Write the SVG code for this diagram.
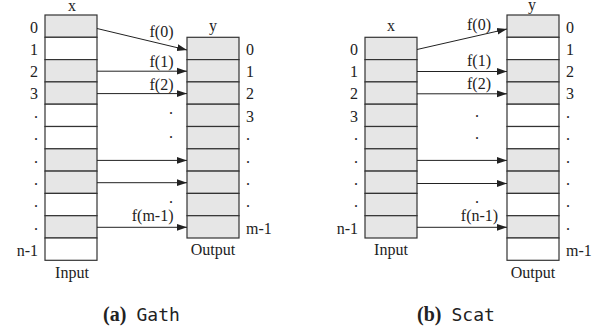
<svg xmlns="http://www.w3.org/2000/svg" width="605" height="334" viewBox="0 0 605 334">
<style>
text{font-family:"Liberation Serif","Times New Roman",serif;font-size:16px;fill:#222}
.g{fill:#e6e6e6;stroke:#333;stroke-width:1.2}
.w{fill:#ffffff;stroke:#333;stroke-width:1.2}
.e{text-anchor:end}
.m{text-anchor:middle}
.ln{stroke:#222;stroke-width:1;fill:none;marker-end:url(#ah)}
.cap{font-family:"Liberation Serif",serif;font-weight:bold;font-size:20px}
.mono{font-family:"DejaVu Sans Mono",monospace;font-size:18px}
</style>
<defs>
<marker id="ah" markerUnits="userSpaceOnUse" markerWidth="10" markerHeight="8" refX="10" refY="4" orient="auto">
<path d="M0,0.6 L10,4 L0,7.4 z" fill="#222"/>
</marker>
</defs>

<!-- (a) Gath -->
<g id="gath-x">
<text class="m" x="72" y="11">x</text>
<rect class="g" x="45" y="15" width="52" height="22.3"/>
<rect class="w" x="45" y="37.3" width="52" height="22.3"/>
<rect class="g" x="45" y="59.6" width="52" height="22.3"/>
<rect class="g" x="45" y="81.9" width="52" height="22.3"/>
<rect class="w" x="45" y="104.2" width="52" height="22.3"/>
<rect class="w" x="45" y="126.5" width="52" height="22.3"/>
<rect class="g" x="45" y="148.8" width="52" height="22.3"/>
<rect class="g" x="45" y="171.1" width="52" height="22.3"/>
<rect class="w" x="45" y="193.4" width="52" height="22.3"/>
<rect class="g" x="45" y="215.7" width="52" height="22.3"/>
<rect class="w" x="45" y="238" width="52" height="22.3"/>
<text class="e" x="38" y="32.5">0</text>
<text class="e" x="38" y="54.8">1</text>
<text class="e" x="38" y="77.1">2</text>
<text class="e" x="38" y="99.4">3</text>
<text class="e" x="38" y="118">.</text>
<text class="e" x="38" y="140.3">.</text>
<text class="e" x="38" y="162.6">.</text>
<text class="e" x="38" y="184.9">.</text>
<text class="e" x="38" y="207.2">.</text>
<text class="e" x="38" y="229.5">.</text>
<text class="e" x="38" y="256">n-1</text>
<text class="m" x="72" y="278">Input</text>
</g>

<g id="gath-y">
<text class="m" x="213" y="31">y</text>
<rect class="g" x="187" y="37.3" width="52" height="22.3"/>
<rect class="g" x="187" y="59.6" width="52" height="22.3"/>
<rect class="g" x="187" y="81.9" width="52" height="22.3"/>
<rect class="g" x="187" y="104.2" width="52" height="22.3"/>
<rect class="g" x="187" y="126.5" width="52" height="22.3"/>
<rect class="g" x="187" y="148.8" width="52" height="22.3"/>
<rect class="g" x="187" y="171.1" width="52" height="22.3"/>
<rect class="g" x="187" y="193.4" width="52" height="22.3"/>
<rect class="g" x="187" y="215.7" width="52" height="22.3"/>
<text x="246" y="54.8">0</text>
<text x="246" y="77.1">1</text>
<text x="246" y="99.4">2</text>
<text x="246" y="121.7">3</text>
<text x="246" y="140.3">.</text>
<text x="246" y="162.6">.</text>
<text x="246" y="184.9">.</text>
<text x="246" y="207.2">.</text>
<text x="246" y="233.5">m-1</text>
<text class="m" x="213" y="255">Output</text>
</g>

<g id="gath-connectors">
<line class="ln" x1="97" y1="28.5" x2="187" y2="50"/>
<line class="ln" x1="97" y1="71.2" x2="187" y2="71.2"/>
<line class="ln" x1="97" y1="93.6" x2="187" y2="93.6"/>
<line class="ln" x1="97" y1="160.4" x2="187" y2="160.4"/>
<line class="ln" x1="97" y1="182.7" x2="187" y2="182.7"/>
<line class="ln" x1="97" y1="227.3" x2="187" y2="227.3"/>
<text class="e" x="173.5" y="36.5">f(0)</text>
<text class="e" x="173.5" y="67">f(1)</text>
<text class="e" x="173.5" y="89.5">f(2)</text>
<text class="e" x="173.5" y="221">f(m-1)</text>
<text class="m" x="171" y="113.5">.</text>
<text class="m" x="171" y="138">.</text>
<text class="m" x="171" y="202.5">.</text>
</g>

<text id="caption-a" x="103" y="321"><tspan class="cap">(a)</tspan><tspan class="mono" x="136.5">Gath</tspan></text>

<!-- (b) Scat -->
<g id="scat-x">
<text class="m" x="391" y="30.5">x</text>
<rect class="g" x="365" y="37.3" width="52" height="22.3"/>
<rect class="g" x="365" y="59.6" width="52" height="22.3"/>
<rect class="g" x="365" y="81.9" width="52" height="22.3"/>
<rect class="g" x="365" y="104.2" width="52" height="22.3"/>
<rect class="g" x="365" y="126.5" width="52" height="22.3"/>
<rect class="g" x="365" y="148.8" width="52" height="22.3"/>
<rect class="g" x="365" y="171.1" width="52" height="22.3"/>
<rect class="g" x="365" y="193.4" width="52" height="22.3"/>
<rect class="g" x="365" y="215.7" width="52" height="22.3"/>
<text class="e" x="358" y="54.8">0</text>
<text class="e" x="358" y="77.1">1</text>
<text class="e" x="358" y="99.4">2</text>
<text class="e" x="358" y="121.7">3</text>
<text class="e" x="358" y="140.3">.</text>
<text class="e" x="358" y="162.6">.</text>
<text class="e" x="358" y="184.9">.</text>
<text class="e" x="358" y="207.2">.</text>
<text class="e" x="358" y="233.5">n-1</text>
<text class="m" x="391" y="255">Input</text>
</g>

<g id="scat-y">
<text class="m" x="532" y="10">y</text>
<rect class="g" x="507" y="15" width="52" height="22.3"/>
<rect class="w" x="507" y="37.3" width="52" height="22.3"/>
<rect class="g" x="507" y="59.6" width="52" height="22.3"/>
<rect class="g" x="507" y="81.9" width="52" height="22.3"/>
<rect class="w" x="507" y="104.2" width="52" height="22.3"/>
<rect class="w" x="507" y="126.5" width="52" height="22.3"/>
<rect class="g" x="507" y="148.8" width="52" height="22.3"/>
<rect class="g" x="507" y="171.1" width="52" height="22.3"/>
<rect class="w" x="507" y="193.4" width="52" height="22.3"/>
<rect class="g" x="507" y="215.7" width="52" height="22.3"/>
<rect class="w" x="507" y="238" width="52" height="22.3"/>
<text x="566" y="32.5">0</text>
<text x="566" y="54.8">1</text>
<text x="566" y="77.1">2</text>
<text x="566" y="99.4">3</text>
<text x="566" y="118">.</text>
<text x="566" y="140.3">.</text>
<text x="566" y="162.6">.</text>
<text x="566" y="184.9">.</text>
<text x="566" y="207.2">.</text>
<text x="566" y="229.5">.</text>
<text x="566" y="256">m-1</text>
<text class="m" x="533" y="278">Output</text>
</g>

<g id="scat-connectors">
<line class="ln" x1="417" y1="49.5" x2="507" y2="29"/>
<line class="ln" x1="417" y1="71.5" x2="507" y2="71.5"/>
<line class="ln" x1="417" y1="93.8" x2="507" y2="93.8"/>
<line class="ln" x1="417" y1="160.4" x2="507" y2="160.4"/>
<line class="ln" x1="417" y1="183.5" x2="507" y2="183.5"/>
<line class="ln" x1="417" y1="227.3" x2="507" y2="227.3"/>
<text class="m" x="479" y="30">f(0)</text>
<text class="m" x="479" y="66">f(1)</text>
<text class="m" x="479" y="89">f(2)</text>
<text class="m" x="479.5" y="221">f(n-1)</text>
<text class="m" x="477" y="116.5">.</text>
<text class="m" x="477" y="139">.</text>
<text class="m" x="477" y="202.5">.</text>
</g>

<text id="caption-b" x="417" y="321"><tspan class="cap">(b)</tspan><tspan class="mono" x="451.5">Scat</tspan></text>
</svg>
